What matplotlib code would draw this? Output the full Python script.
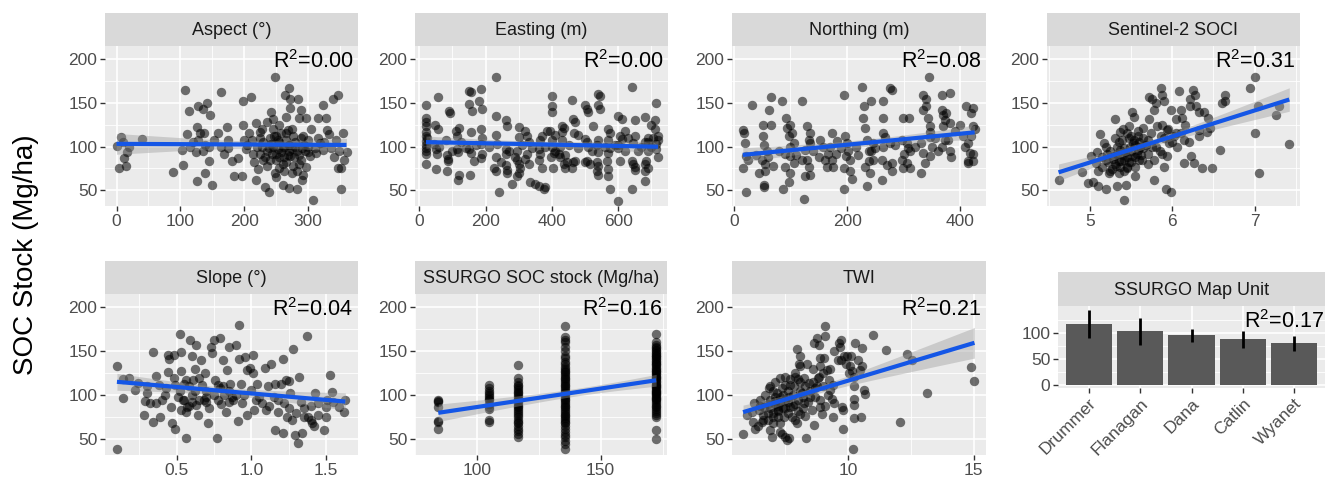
import numpy as np
import matplotlib
matplotlib.use("Agg")
import matplotlib.pyplot as plt

plt.rcParams['font.family'] = ['Liberation Sans', 'DejaVu Sans']
plt.rcParams['mathtext.fontset'] = 'custom'
plt.rcParams['mathtext.rm'] = 'Liberation Sans'

# ---- data (x, SOC stock) ----
aspect_pts = [
    (0, 101), (7, 111), (10, 105), (4, 76), (15, 78), (12, 87), (16, 94), (20, 100), (40, 109),
    (107, 165), (113, 141), (111, 114), (103, 96), (104, 79), (89, 71), (128, 146), (136, 143),
    (141, 150), (147, 136), (126, 122), (130, 116), (137, 116), (115, 100), (125, 94), (135, 95),
    (138, 102), (144, 83), (138, 70), (126, 61), (149, 56), (153, 108), (163, 162), (159, 116),
    (173, 122), (163, 100), (169, 91), (174, 108), (180, 83), (184, 66), (196, 66), (190, 87),
    (198, 152), (211, 157), (198, 125), (199, 108), (203, 97), (208, 115), (214, 91),
    (219, 127), (224, 117), (227, 100), (229, 85), (221, 74), (219, 62), (232, 54), (238, 48),
    (242, 140), (245, 131), (248, 180), (250, 112), (253, 97), (250, 85), (255, 75), (261, 56),
    (263, 159), (270, 167), (271, 154), (272, 144), (266, 134), (268, 119), (276, 112), (279, 100),
    (271, 89), (274, 70), (270, 53), (282, 51), (284, 154), (288, 142), (286, 133), (292, 112),
    (297, 133), (300, 100), (303, 89), (297, 77), (292, 68), (308, 39), (316, 133), (328, 133),
    (323, 147), (330, 119), (333, 114), (339, 154), (347, 159), (344, 108), (347, 75), (352, 75),
    (352, 51), (360, 94), (355, 115), (313, 93), (318, 104), (323, 96),
    (230, 105), (235, 95), (240, 110), (245, 100), (250, 92), (255, 105), (260, 98), (265, 108),
    (270, 95), (280, 105), (285, 90), (290, 98), (240, 85), (260, 80), (225, 92), (245, 120),
    (255, 125), (265, 115), (275, 120), (235, 78), (248, 70), (262, 88), (285, 80), (295, 95),
    (300, 108), (305, 120), (220, 100), (212, 108), (255, 88), (270, 102), (242, 103), (278, 88),
    (288, 110),
    (225, 110), (232, 88), (238, 98), (244, 92), (252, 108), (258, 94), (262, 100), (268, 90),
    (274, 97), (282, 95), (288, 85), (294, 102), (300, 94), (310, 98), (315, 110), (325, 105),
    (335, 98), (340, 88), (348, 95), (356, 85), (228, 120), (236, 128), (246, 112), (258, 116),
    (266, 82), (276, 78), (283, 72), (290, 62), (262, 72), (250, 65), (120, 105), (128, 108),
    (145, 100), (175, 98), (205, 102), (215, 82),
]

easting_pts = [
    (20, 147), (20, 133), (20, 128), (20, 123), (20, 117), (20, 112), (20, 106), (20, 98), (20, 91), (20, 80),
    (45, 103), (50, 97), (55, 157), (52, 92), (50, 74), (48, 125), (55, 120),
    (80, 107), (85, 90), (88, 86), (88, 83), (85, 72), (90, 141), (92, 138),
    (110, 118), (115, 112), (120, 121), (115, 97), (118, 94), (120, 68), (118, 62), (125, 105),
    (150, 164), (155, 162), (150, 149), (160, 141), (155, 117), (150, 97), (155, 93), (152, 68), (165, 83),
    (185, 166), (180, 152), (190, 143), (185, 120), (190, 110), (185, 103), (190, 92), (185, 87),
    (230, 180), (230, 135), (230, 113), (235, 103), (230, 88), (225, 76), (230, 72),
    (245, 82), (240, 48), (260, 130), (265, 124), (260, 97), (262, 92), (260, 79), (265, 73), (265, 70),
    (280, 57), (290, 88), (300, 122), (300, 111), (295, 95), (295, 85), (300, 80), (300, 70), (295, 66), (305, 75),
    (320, 118), (325, 112), (330, 105), (325, 91), (320, 86), (330, 80), (335, 60),
    (350, 57), (360, 55), (365, 108), (370, 112), (360, 97), (365, 92), (360, 85), (370, 76), (375, 52),
    (380, 54), (385, 118),
    (400, 158), (400, 146), (400, 140), (395, 118), (400, 108), (400, 100), (405, 93), (398, 88), (402, 76), (410, 113),
    (420, 92), (425, 100), (430, 124), (435, 121), (430, 117), (430, 108), (440, 90), (435, 80), (440, 75),
    (445, 82), (425, 88),
    (460, 153), (465, 132), (470, 128), (468, 116), (465, 82), (470, 84), (460, 76), (480, 113),
    (500, 148), (505, 143), (510, 140), (500, 109), (505, 105), (510, 100), (505, 84), (500, 82), (515, 80),
    (525, 124), (540, 160), (545, 158), (540, 148), (545, 143), (540, 108), (535, 102), (540, 94), (535, 82),
    (540, 78), (535, 72), (540, 67),
    (570, 120), (575, 115), (570, 108), (575, 98), (570, 93), (565, 83), (570, 74), (570, 66), (575, 51),
    (600, 135), (610, 131), (605, 112), (610, 109), (600, 102), (600, 98), (605, 83), (600, 38),
    (640, 168), (650, 130), (645, 104), (640, 84), (645, 80), (650, 77), (650, 73), (640, 51),
    (680, 134), (690, 110), (680, 105), (690, 95), (685, 84), (680, 80), (690, 76), (680, 72), (680, 61),
    (715, 150), (720, 112), (720, 108), (715, 103), (715, 97), (720, 88),
    (20, 102), (20, 95), (22, 110), (705, 110), (712, 120), (700, 100), (690, 105), (660, 95),
    (670, 100), (630, 110), (620, 95), (590, 102), (560, 100), (520, 95), (480, 98), (450, 102),
    (410, 95), (380, 100), (340, 98), (310, 102), (270, 95), (210, 100), (170, 102), (140, 98),
    (100, 95), (60, 100), (710, 130), (700, 125), (650, 112), (620, 118),
]

northing_pts = [
    (16, 119), (18, 116), (20, 104), (16, 75), (22, 48), (33, 147), (22, 89),
    (52, 125), (52, 112), (53, 102), (50, 85), (55, 80), (55, 72), (53, 56), (54, 54), (62, 142), (65, 157),
    (66, 125), (59, 95),
    (85, 152), (93, 133), (94, 121), (97, 112), (100, 125), (103, 115), (99, 100), (100, 89), (91, 77),
    (99, 70), (97, 60), (87, 51), (106, 104), (106, 81),
    (120, 152), (124, 40), (129, 123), (132, 108), (126, 96), (129, 85), (135, 104), (132, 77), (126, 66),
    (135, 68), (135, 115),
    (152, 108), (158, 100), (161, 85), (164, 77), (167, 91), (170, 100), (173, 115), (173, 85), (176, 77), (182, 106),
    (194, 159), (196, 112), (199, 104), (198, 89), (194, 75), (195, 51), (202, 95), (205, 72), (208, 63), (205, 85),
    (226, 168), (229, 146), (228, 133), (232, 121), (235, 108), (238, 95), (232, 77), (235, 55), (241, 70),
    (243, 152), (246, 104), (243, 95), (246, 85), (238, 83),
    (264, 152), (263, 133), (264, 115), (264, 100), (261, 85), (261, 62), (276, 167), (279, 165), (267, 111),
    (276, 104), (279, 81), (279, 72), (270, 79),
    (299, 133), (310, 133), (296, 108), (305, 104), (308, 98), (311, 95), (296, 85), (299, 75), (311, 75), (305, 81),
    (334, 159), (339, 154), (340, 146), (334, 142), (343, 133), (346, 123), (346, 117), (331, 104), (334, 93),
    (337, 81), (331, 70), (345, 180), (346, 89), (349, 100), (346, 111),
    (367, 159), (367, 142), (370, 136), (372, 130), (370, 123), (375, 138), (381, 161), (381, 127), (378, 108),
    (381, 95), (384, 88), (367, 100), (372, 108),
    (410, 146), (422, 144), (419, 138), (422, 123), (419, 112), (414, 104), (416, 93), (414, 83), (422, 83),
    (414, 81), (422, 91), (405, 112), (408, 100),
    (25, 85), (40, 90), (60, 88), (70, 78), (80, 95), (45, 70), (110, 90), (140, 95), (150, 88),
    (180, 92), (190, 98), (215, 100), (250, 98), (285, 102), (320, 100), (355, 110), (390, 118),
    (400, 125), (425, 120), (360, 95), (300, 92), (220, 90), (120, 85), (90, 92),
]

soci_pts = [
    (4.62, 62), (4.91, 71), (4.98, 58), (5.04, 60), (5.10, 55), (5.19, 52), (5.12, 114), (5.07, 81), (5.01, 89),
    (5.09, 94), (5.15, 77), (5.17, 104), (5.19, 85), (5.21, 92), (5.23, 70),
    (5.31, 131), (5.33, 55), (5.37, 77), (5.37, 96), (5.39, 108), (5.41, 85), (5.42, 39), (5.44, 56), (5.45, 115),
    (5.47, 123), (5.49, 100), (5.51, 89), (5.51, 140), (5.53, 134), (5.55, 77), (5.55, 66), (5.59, 112), (5.57, 92),
    (5.61, 100), (5.63, 85), (5.65, 121), (5.29, 89), (5.33, 100), (5.35, 83), (5.27, 74), (5.37, 117), (5.43, 94),
    (5.45, 77), (5.53, 108),
    (5.72, 157), (5.76, 154), (5.78, 142), (5.80, 150), (5.72, 131), (5.74, 115), (5.76, 100), (5.78, 85), (5.78, 62),
    (5.70, 108), (5.82, 123), (5.86, 167), (5.88, 159), (5.90, 152), (5.88, 125), (5.86, 112), (5.88, 92), (5.90, 77),
    (5.93, 52), (5.98, 48), (5.94, 89), (5.96, 104), (5.98, 142), (5.94, 119),
    (6.08, 163), (6.10, 142), (6.12, 133), (6.14, 108), (6.14, 81), (6.10, 115), (6.06, 100), (6.04, 131), (6.02, 112),
    (6.21, 154), (6.25, 165), (6.28, 159), (6.22, 146), (6.29, 146), (6.33, 140), (6.39, 140), (6.43, 133), (6.26, 81),
    (6.23, 89), (6.33, 112), (6.36, 75), (6.42, 117), (6.46, 121), (6.48, 75), (6.32, 119),
    (6.58, 96), (6.60, 150), (6.64, 159), (6.64, 152), (6.94, 167), (7.01, 180), (7.01, 116), (7.04, 146), (7.05, 70),
    (7.26, 136), (7.29, 146), (7.42, 103),
    (5.25, 95), (5.30, 80), (5.35, 105), (5.40, 90), (5.45, 88), (5.50, 95), (5.55, 102), (5.60, 85), (5.65, 98),
    (5.70, 92), (5.30, 110), (5.40, 120), (5.50, 112), (5.60, 105), (5.45, 75), (5.35, 70), (5.55, 88), (5.65, 110),
    (5.70, 80), (5.20, 100), (5.25, 72), (5.50, 82), (5.80, 100), (5.85, 95), (5.90, 110), (6.00, 105), (6.05, 115),
    (5.95, 120), (6.15, 125), (6.20, 105),
    (5.28, 86), (5.33, 92), (5.38, 84), (5.42, 98), (5.47, 82), (5.52, 104), (5.58, 96), (5.62, 90), (5.68, 102),
    (5.32, 78), (5.42, 72), (5.48, 110), (5.58, 118), (5.22, 82), (5.15, 88), (5.10, 72),
]

slope_pts = [
    (0.10, 133), (0.14, 118), (0.14, 97), (0.10, 39), (0.24, 114), (0.28, 78), (0.30, 102), (0.29, 93), (0.32, 91),
    (0.34, 149), (0.36, 122), (0.34, 70), (0.36, 91), (0.39, 75), (0.40, 94), (0.43, 108), (0.44, 146), (0.44, 126),
    (0.45, 141), (0.46, 87), (0.47, 68), (0.48, 146), (0.49, 61), (0.49, 112), (0.51, 98), (0.52, 169), (0.53, 127),
    (0.53, 83), (0.53, 149), (0.54, 94), (0.55, 113), (0.56, 51), (0.56, 81), (0.56, 117), (0.59, 163), (0.60, 145),
    (0.60, 92), (0.61, 117), (0.62, 130), (0.63, 157), (0.63, 89), (0.64, 77), (0.66, 140), (0.67, 112), (0.68, 94),
    (0.69, 125), (0.70, 92), (0.71, 68), (0.73, 155), (0.74, 148), (0.75, 163), (0.76, 117), (0.77, 51), (0.79, 108),
    (0.79, 165), (0.81, 140), (0.81, 110), (0.83, 81), (0.84, 129), (0.85, 155), (0.86, 113), (0.87, 98), (0.90, 157),
    (0.92, 180), (0.91, 71), (0.92, 141), (0.93, 113), (0.94, 91), (0.96, 143), (0.97, 77), (0.97, 129), (0.99, 131),
    (1.00, 106), (1.01, 146), (1.01, 125), (1.02, 83), (1.03, 94), (1.04, 113), (1.07, 91), (1.09, 131), (1.10, 83),
    (1.11, 110), (1.13, 136), (1.15, 98), (1.16, 60), (1.16, 113), (1.18, 81), (1.20, 113), (1.21, 141), (1.21, 57),
    (1.22, 91), (1.23, 117), (1.24, 75), (1.25, 116), (1.26, 103), (1.27, 72), (1.28, 152), (1.29, 55), (1.31, 46),
    (1.32, 121), (1.33, 92), (1.34, 57), (1.35, 75), (1.37, 167), (1.38, 75), (1.40, 72), (1.41, 68), (1.43, 102),
    (1.45, 91), (1.49, 60), (1.50, 87), (1.51, 94), (1.53, 123), (1.54, 104), (1.59, 87), (1.62, 81), (1.63, 94),
    (0.55, 95), (0.58, 88), (0.60, 100), (0.65, 95), (0.70, 105), (0.75, 100), (0.80, 90), (0.85, 105), (0.88, 95),
    (0.90, 100), (0.62, 105), (0.72, 85), (0.82, 100), (0.57, 86), (0.78, 95),
    (1.30, 80), (1.35, 85), (1.40, 88), (1.45, 78), (1.50, 75), (1.55, 92), (1.42, 65), (1.25, 85), (1.18, 95),
    (1.12, 88), (0.30, 110), (0.38, 112), (0.42, 100), (0.48, 120), (0.52, 105), (0.58, 110), (0.65, 120),
    (0.70, 98), (0.78, 112), (0.85, 92), (0.95, 100), (1.05, 98), (0.22, 106), (0.18, 120),
]

# SSURGO SOC stock takes five discrete values
ssurgo_levels = [84.4, 104.7, 116.7, 135.7, 172.4]
ssurgo_soc = [
    [95, 93, 92, 87, 71, 69, 61],
    [112, 108, 105, 102, 100, 98, 96, 94, 90, 87, 84, 72, 70],
    [134, 119, 115, 112, 110, 108, 106, 104, 102, 100, 98, 96, 94, 92, 90, 88, 86, 84, 82, 80, 78, 75,
     72, 70, 68, 65, 62, 59, 56, 53],
    [179, 166, 163, 160, 155, 150, 145, 142, 138, 135, 132, 130, 128, 126, 124, 122, 120, 118, 116, 114,
     112, 110, 108, 106, 104, 102, 100, 98, 96, 94, 92, 90, 88, 86, 84, 82, 80, 78, 76, 74, 72, 70, 68,
     65, 62, 58, 55, 52, 48, 45, 39],
    [169, 160, 157, 154, 151, 148, 145, 142, 139, 136, 133, 130, 127, 124, 121, 118, 115, 112, 110, 108,
     106, 104, 102, 100, 98, 96, 94, 92, 90, 88, 86, 84, 82, 80, 78, 75, 60, 50,
     155, 150, 147, 144, 141, 138, 135, 131, 128, 125, 122, 119, 116, 113, 109, 105, 101, 97],
]

twi_pts = [
    (5.82, 56), (6.31, 61), (6.17, 81), (5.98, 77), (6.25, 91), (6.44, 83), (6.58, 70), (6.64, 87), (6.84, 108),
    (6.90, 60), (6.97, 53), (7.10, 93), (7.17, 102), (7.31, 58), (7.37, 56), (7.50, 53), (7.57, 49), (7.64, 51),
    (7.44, 75), (7.50, 121), (7.37, 108), (7.23, 83), (7.64, 98), (7.70, 87), (7.77, 75), (7.84, 110), (7.90, 121),
    (7.97, 152), (8.10, 144), (8.04, 136), (8.10, 133), (8.24, 119), (8.17, 102), (8.24, 91), (8.10, 79), (7.97, 68),
    (8.34, 51), (8.37, 136), (8.44, 114), (8.50, 98), (8.57, 83), (8.64, 66), (8.64, 159), (8.77, 165), (8.84, 157),
    (8.90, 142), (9.04, 142), (8.90, 133), (8.84, 121), (8.77, 110), (8.70, 98), (8.90, 87), (8.97, 79), (9.10, 179),
    (9.10, 167), (9.17, 129), (9.24, 117), (9.30, 106), (9.37, 96), (9.44, 91), (9.41, 75), (9.44, 150), (9.64, 159),
    (9.71, 163), (9.68, 155), (9.71, 140), (9.84, 144), (9.76, 87), (9.80, 83), (9.78, 61), (9.96, 144), (10.09, 133),
    (10.03, 125), (10.16, 127), (10.22, 121), (10.25, 110), (10.22, 96), (10.25, 89), (10.22, 74), (10.19, 39),
    (10.29, 159), (10.49, 129), (10.56, 154), (10.56, 133), (10.53, 75), (10.65, 106), (10.69, 101), (10.99, 168),
    (11.52, 151), (12.08, 70), (12.35, 147), (12.55, 140), (13.14, 102), (14.89, 132), (15.03, 116),
    (6.5, 95), (6.7, 100), (6.8, 90), (6.9, 85), (7.0, 105), (7.1, 98), (7.2, 88), (7.3, 92), (7.4, 100), (7.5, 95),
    (7.6, 105), (7.7, 112), (7.8, 100), (7.9, 90), (8.0, 95), (8.1, 105), (8.2, 98), (8.3, 110), (8.4, 92), (8.5, 105),
    (8.6, 115), (8.7, 108), (7.0, 80), (7.2, 75), (7.4, 85), (7.6, 80), (7.8, 88), (8.0, 82), (8.2, 85), (7.1, 115),
    (7.3, 120), (7.5, 112), (7.7, 118), (7.9, 125), (8.1, 115), (6.6, 78), (6.8, 72), (7.0, 68), (8.8, 120),
    (9.0, 110), (9.2, 100), (9.4, 112), (8.9, 95), (9.1, 88), (6.9, 110), (7.3, 68), (7.9, 72), (8.3, 76),
    (6.2, 70), (6.4, 65), (6.6, 72), (6.8, 80), (7.0, 75), (7.2, 82), (6.5, 88), (7.1, 90), (7.5, 85),
    (9.6, 140), (9.9, 135), (10.1, 145), (10.4, 140), (9.3, 130), (9.0, 125), (8.6, 130), (8.0, 118),
    (7.6, 92), (7.3, 98), (6.9, 95),
]

map_units = ["Drummer", "Flanagan", "Dana", "Catlin", "Wyanet"]
unit_mean = [116, 103, 95, 88, 80]
unit_lo = [91, 76, 82, 71, 66]
unit_hi = [144, 129, 107, 104, 94]

r2_labels = ["0.00", "0.00", "0.08", "0.31", "0.04", "0.16", "0.21", "0.17"]

# ---- layout helpers (pixel boxes, y measured from top) ----
W, H = 1326, 480
fig = plt.figure(figsize=(W / 100, H / 100), dpi=100)


def box(x0, y0, x1, y1):
    return [x0 / W, 1 - y1 / H, (x1 - x0) / W, (y1 - y0) / H]


def make_panel(x0, x1, top, strip_h, bottom, title):
    strip = fig.add_axes(box(x0, top, x1, top + strip_h))
    strip.set_facecolor("#D9D9D9")
    strip.set_xticks([])
    strip.set_yticks([])
    for sp in strip.spines.values():
        sp.set_visible(False)
    strip.text(0.5, 0.47, title, ha="center", va="center", fontsize=13,
               color="#1A1A1A", transform=strip.transAxes)
    ax = fig.add_axes(box(x0, top + strip_h, x1, bottom))
    ax.set_facecolor("#EBEBEB")
    for sp in ax.spines.values():
        sp.set_visible(False)
    ax.set_axisbelow(True)
    ax.grid(which="major", color="white", lw=1.2)
    ax.grid(which="minor", color="white", lw=0.6)
    ax.tick_params(which="major", length=3.5, width=1.0, color="#333333",
                   labelcolor="#4D4D4D", labelsize=12.5, pad=2)
    ax.tick_params(which="minor", length=0)
    return ax


def r2_text(ax, label, y=0.865, x=0.98):
    ax.text(x, y, r"$\mathregular{R^2}$=" + label, transform=ax.transAxes,
            ha="right", va="baseline", fontsize=15.5, color="black")


def scatter_fit(ax, x, y):
    x = np.asarray(x, float)
    y = np.asarray(y, float)
    ax.scatter(x, y, s=46, color="black", alpha=0.55, linewidths=0, zorder=2)
    b, a = np.polyfit(x, y, 1)
    xs = np.linspace(x.min(), x.max(), 80)
    n = len(x)
    resid = y - (a + b * x)
    s = np.sqrt(np.sum(resid ** 2) / (n - 2))
    sxx = np.sum((x - x.mean()) ** 2)
    se = s * np.sqrt(1 / n + (xs - x.mean()) ** 2 / sxx)
    fit = a + b * xs
    ax.fill_between(xs, fit - 1.97 * se, fit + 1.97 * se, color="#999999", alpha=0.4, lw=0, zorder=3)
    ax.plot(xs, fit, color="#1456E6", lw=3, zorder=4, solid_capstyle="butt")


ylim = (32, 215)
yticks = [50, 100, 150, 200]
yminor = [75, 125, 175]

cols_top = [(105, 358), (415, 668), (732, 986), (1047, 1300)]
cols_bot = [(105, 358), (415, 667), (732, 986)]

scatter_specs = [
    ("Aspect (°)", aspect_pts, (-18, 378), [0, 100, 200, 300], [50, 150, 250, 350]),
    ("Easting (m)", easting_pts, (-13, 750), [0, 200, 400, 600], [100, 300, 500, 700]),
    ("Northing (m)", northing_pts, (-3, 445), [0, 200, 400], [100, 300]),
    ("Sentinel-2 SOCI", soci_pts, (4.48, 7.55), [5, 6, 7], [4.5, 5.5, 6.5, 7.5]),
    ("Slope (°)", slope_pts, (0.02, 1.715), [0.5, 1.0, 1.5], [0.25, 0.75, 1.25]),
    ("SSURGO SOC stock (Mg/ha)", None, (80, 176.8), [100, 150], [75, 125, 175]),
    ("TWI", twi_pts, (5.38, 15.49), [10, 15], [7.5, 12.5]),
]

for i, (title, pts, xlim, xt, xm) in enumerate(scatter_specs):
    if i < 4:
        x0, x1 = cols_top[i]
        ax = make_panel(x0, x1, 13, 33, 206, title)
    else:
        x0, x1 = cols_bot[i - 4]
        ax = make_panel(x0, x1, 261, 33, 455, title)
    if pts is None:
        xs = [lev for lev, vals in zip(ssurgo_levels, ssurgo_soc) for _ in vals]
        ys = [v for vals in ssurgo_soc for v in vals]
    else:
        xs = [p[0] for p in pts]
        ys = [p[1] for p in pts]
    scatter_fit(ax, xs, ys)
    ax.set_xlim(*xlim)
    ax.set_ylim(*ylim)
    ax.set_xticks(xt)
    ax.set_xticks(xm, minor=True)
    ax.set_yticks(yticks)
    ax.set_yticks(yminor, minor=True)
    if title.startswith("Slope"):
        ax.set_xticklabels(["0.5", "1.0", "1.5"])
    r2_text(ax, r2_labels[i])

# ---- SSURGO map unit bars ----
ax = make_panel(1058, 1325, 272, 34, 388, "SSURGO Map Unit")
pos = np.arange(len(map_units))
ax.bar(pos, unit_mean, width=0.9, color="#595959", zorder=2)
ax.vlines(pos, unit_lo, unit_hi, color="black", lw=2, zorder=3)
ax.set_xlim(-0.6, len(map_units) - 0.4)
ax.set_ylim(-5, 151)
ax.set_yticks([0, 50, 100])
ax.set_yticks([25, 75, 125], minor=True)
ax.set_xticks(pos)
ax.set_xticklabels(map_units, rotation=45, ha="right", rotation_mode="anchor")
ax.grid(which="major", axis="x", color="white", lw=1.2)
r2_text(ax, r2_labels[7], y=0.735, x=0.995)

fig.text(26 / W, 1 - 255 / H, "SOC Stock (Mg/ha)", rotation=90, ha="center", va="center",
         fontsize=20, color="black")

fig.savefig("out.png", dpi=100)
